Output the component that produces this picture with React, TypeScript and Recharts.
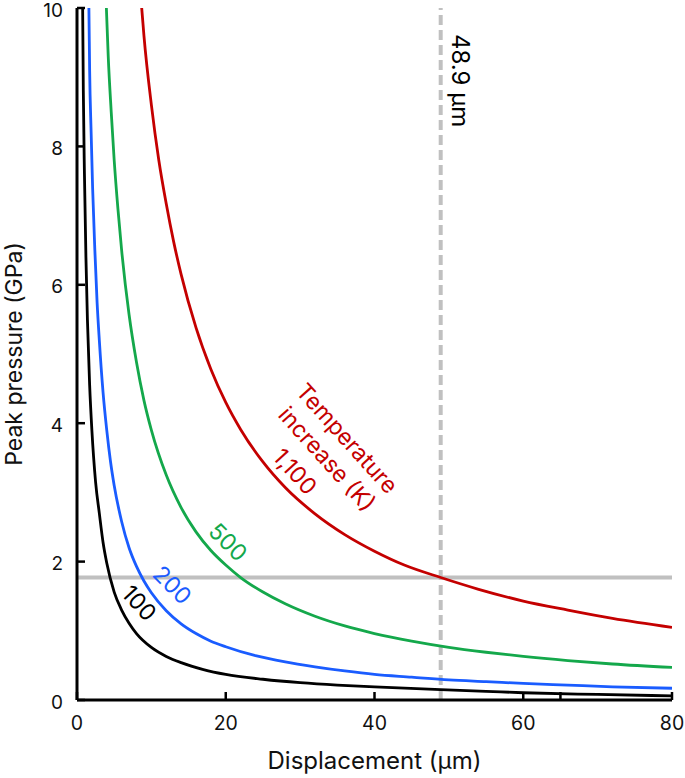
import React from 'react';
import { LineChart, Line, XAxis, YAxis, ReferenceLine, ReferenceDot, Label } from 'recharts';

const FONT = 'Inter, "Noto Sans", "DejaVu Sans", sans-serif';

// Axis ticks
const xTickValues = [0, 20, 40, 60, 65, 80];
const xTickLabels = ['0', '20', '40', '60', '', '80'];
const yTickValues = [0, 2, 4, 6, 8, 10];
const yTickLabels = ['0', '2', '4', '6', '8', '10'];

// Series: temperature increase (K)
const seriesNames = ['1,100', '500', '200', '100'];
const seriesColors = ['#c40000', '#14a84b', '#1a5cff', '#000000'];

const dispRed = [8.3, 8.7, 9, 10, 11, 12, 13, 14, 16, 18, 20, 22, 25, 28, 32, 36, 40, 44, 48.9, 54, 60, 66, 72, 80];
const presRed = [10.4, 10.0, 9.6, 8.6, 7.8, 7.17, 6.62, 6.15, 5.38, 4.78, 4.3, 3.91, 3.44, 3.07, 2.69, 2.39, 2.15, 1.95, 1.77, 1.6, 1.43, 1.3, 1.18, 1.05];

const dispGreen = [3.8, 3.95, 4.2, 4.6, 5, 5.5, 6, 7, 8, 9, 10, 12, 14, 16, 18, 20, 22, 25, 28, 32, 36, 40, 45, 50, 55, 60, 66, 72, 80];
const presGreen = [10.4, 10.0, 9.3, 8.5, 7.8, 7.1, 6.5, 5.57, 4.88, 4.33, 3.9, 3.25, 2.78, 2.43, 2.16, 1.95, 1.77, 1.56, 1.39, 1.21, 1.07, 0.96, 0.85, 0.76, 0.69, 0.63, 0.57, 0.52, 0.47];

const dispBlue = [1.5, 1.6, 1.7, 1.9, 2.1, 2.4, 2.7, 3, 3.5, 4, 4.5, 5, 6, 7, 8, 9, 10, 12, 14, 16, 18, 20, 24, 28, 32, 36, 40, 45, 50, 55, 60, 66, 72, 80];
const presBlue = [10.4, 10.0, 9.1, 8.2, 7.4, 6.5, 5.75, 5.2, 4.45, 3.9, 3.45, 3.1, 2.58, 2.2, 1.93, 1.72, 1.55, 1.29, 1.1, 0.96, 0.85, 0.77, 0.64, 0.55, 0.48, 0.42, 0.37, 0.33, 0.29, 0.265, 0.24, 0.215, 0.19, 0.17];

const dispBlack = [0.72, 0.76, 0.85, 1, 1.2, 1.4, 1.7, 2, 2.5, 3, 3.5, 4, 5, 6, 7, 8, 10, 12, 14, 17, 20, 25, 30, 35, 40, 48.9, 55, 60, 70, 80];
const presBlack = [10.4, 10.0, 8.8, 7.6, 6.4, 5.5, 4.55, 3.9, 3.15, 2.7, 2.28, 1.98, 1.56, 1.3, 1.11, 0.96, 0.76, 0.63, 0.54, 0.44, 0.37, 0.3, 0.25, 0.215, 0.19, 0.15, 0.125, 0.105, 0.08, 0.06];

// Reference values
const markerDisplacement = 48.9;
const markerPressure = 1.77;

// Text annotations (data coordinates)
const annoText = ['48.9 μm', 'Temperature', 'increase (K)', '1,100', '500', '200', '100'];
const annoX = [51.5, 36.3, 33.6, 29.3, 20.3, 12.8, 8.35];
const annoY = [8.95, 3.78, 3.48, 3.3, 2.28, 1.66, 1.4];
const annoAngle = [90, 48, 48, 48, 45, 45, 48];
const annoSize = [24, 23, 23, 23, 23, 23, 23];
const annoColor = ['#000000', '#c40000', '#c40000', '#c40000', '#14a84b', '#1a5cff', '#000000'];

const toData = (xs: number[], ps: number[]) => xs.map((x, i) => ({ x, p: ps[i] }));
const seriesData = [
  toData(dispRed, presRed),
  toData(dispGreen, presGreen),
  toData(dispBlue, presBlue),
  toData(dispBlack, presBlack),
];

const XTick = (props: any) => {
  const { x, y, payload } = props;
  const idx = xTickValues.indexOf(payload.value);
  const label = idx >= 0 ? xTickLabels[idx] : String(payload.value);
  return (
    <g>
      <line x1={x} y1={y} x2={x} y2={y - 8} stroke="#000" strokeWidth={2.5} />
      <text x={x} y={y + 30} textAnchor="middle" fontSize={19.5} fontFamily={FONT} fill="#111">
        {label}
      </text>
    </g>
  );
};

const YTick = (props: any) => {
  const { x, y, payload } = props;
  const idx = yTickValues.indexOf(payload.value);
  const label = idx >= 0 ? yTickLabels[idx] : String(payload.value);
  return (
    <g>
      <line x1={x} y1={y} x2={x + 8} y2={y} stroke="#000" strokeWidth={2.5} />
      <text x={x - 14} y={y + 2} textAnchor="end" dominantBaseline="central" fontSize={19} fontFamily={FONT} fill="#111">
        {label}
      </text>
    </g>
  );
};

const makeAnno = (i: number) => (p: any) => (
  <text
    x={p.cx}
    y={p.cy}
    transform={`rotate(${annoAngle[i]}, ${p.cx}, ${p.cy})`}
    textAnchor="middle"
    dominantBaseline="central"
    fontSize={annoSize[i]}
    fontFamily={FONT}
    fill={annoColor[i]}
  >
    {annoText[i]}
  </text>
);

export default function App() {
  return (
    <div style={{ position: 'absolute', left: 0, top: 0, background: '#fff' }}>
      <LineChart width={685} height={778} margin={{ top: 8, right: 13, left: 0, bottom: 0 }}>
        <XAxis
          dataKey="x"
          type="number"
          domain={[0, 80]}
          ticks={xTickValues}
          allowDataOverflow
          height={78}
          tickSize={0}
          tickMargin={0}
          tickLine={false}
          axisLine={{ stroke: '#000', strokeWidth: 3 }}
          tick={<XTick />}
          interval={0}
        >
          <Label
            content={(p: any) => {
              const vb = p.viewBox;
              return (
                <text x={vb.x + vb.width / 2} y={vb.y + 69} textAnchor="middle" fontSize={24} fontFamily={FONT} fill="#111">
                  Displacement (μm)
                </text>
              );
            }}
          />
        </XAxis>
        <XAxis xAxisId="top" orientation="top" type="number" domain={[0, 80]} height={0} tick={false} tickLine={false} axisLine={{ stroke: '#000', strokeWidth: 3 }} />
        <YAxis
          type="number"
          domain={[0, 10]}
          ticks={yTickValues}
          allowDataOverflow
          width={77}
          tickSize={0}
          tickMargin={0}
          tickLine={false}
          axisLine={{ stroke: '#000', strokeWidth: 3 }}
          tick={<YTick />}
          interval={0}
        >
          <Label
            content={(p: any) => {
              const vb = p.viewBox;
              const cy = vb.y + vb.height / 2;
              return (
                <text x={22} y={cy} transform={`rotate(-90, 22, ${cy})`} textAnchor="middle" fontSize={23} fontFamily={FONT} fill="#111">
                  Peak pressure (GPa)
                </text>
              );
            }}
          />
        </YAxis>
        <YAxis yAxisId="right" orientation="right" type="number" domain={[0, 10]} width={0} tick={false} tickLine={false} axisLine={{ stroke: '#000', strokeWidth: 3 }} />

        <ReferenceLine y={markerPressure} stroke="#c0c0c0" strokeWidth={4} />
        <ReferenceLine x={markerDisplacement} stroke="#c0c0c0" strokeWidth={4} strokeDasharray="10 5" />

        {seriesData.map((d, i) => (
          <Line
            key={seriesNames[i]}
            data={d}
            dataKey="p"
            name={seriesNames[i]}
            type="monotone"
            stroke={seriesColors[i]}
            strokeWidth={2.8}
            dot={false}
            isAnimationActive={false}
          />
        ))}

        {annoText.map((t, i) => (
          <ReferenceDot key={t} x={annoX[i]} y={annoY[i]} r={1} shape={makeAnno(i)} />
        ))}
      </LineChart>
    </div>
  );
}
